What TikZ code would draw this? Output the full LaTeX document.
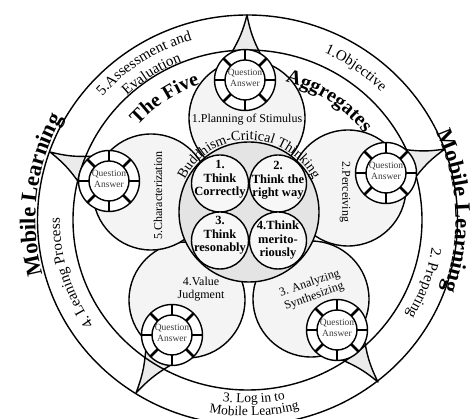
\documentclass[tikz,border=0pt]{standalone}
\usepackage{fontspec}
\setmainfont{Liberation Serif}
\usetikzlibrary{decorations.text,calc}
\definecolor{petalgray}{HTML}{F4F4F4}
\definecolor{coregray}{HTML}{E4E4E4}
\definecolor{smallgray}{HTML}{F7F7F7}
\definecolor{spikegray}{HTML}{EBEBEB}
\definecolor{qtext}{HTML}{3A3A3A}
\newcommand{\ringfnt}{\fontsize{15}{17}\selectfont}
\newcommand{\logfnt}{\fontsize{13.5}{15}\selectfont}
\newcommand{\aggfnt}{\bfseries\fontsize{20}{22}\selectfont}
\newcommand{\mobfnt}{\bfseries\fontsize{22.5}{24}\selectfont}
\newcommand{\budfnt}{\fontsize{14}{15}\selectfont}
\begin{document}
\begin{tikzpicture}[x=1pt,y=1pt,line join=round,
  mainline/.style={line width=1.4pt},
  petal/.style={mainline,fill=petalgray},
  core/.style={mainline,fill=coregray},
  thinkc/.style={circle,draw,mainline,fill=smallgray,minimum size=57pt,inner sep=0pt},
  qaring/.style={circle,draw,mainline,fill=white,minimum size=61pt,inner sep=0pt},
  qalabel/.style={align=center,font=\fontsize{9.5}{11.5}\selectfont,text=qtext,inner sep=0pt},
  tickmark/.style={line width=2.6pt},
  spike/.style={mainline,fill=spikegray},
  thinklabel/.style={align=center,font=\bfseries\fontsize{12.5}{13.5}\selectfont,inner sep=0pt},
  stagelabel/.style={align=center,font=\fontsize{12}{13.5}\selectfont,inner sep=0pt},
  arctext/.style={decorate,decoration={text along path,text align=center,text={#1}}},
]
\useasboundingbox (-249,-199) rectangle (227,220);
% outer ring
\draw[mainline,fill=white] (-1.5,0) ellipse [x radius=210,y radius=205];
% spikes
\foreach \i/\qx/\qy/\tx/\ty/\d in {1/-4/140/-2/205/88, 2/137/47/196/71/22, 3/88/-110/129/-162/-52, 4/-77/-115/-113/-173/-121.5, 5/-140/39/-199/68/154}{
  \coordinate (q\i) at (\qx,\qy);
  \coordinate (t\i) at (\tx,\ty);
  \draw[spike] ($(q\i)+({\d+28}:30.5)$) to[bend right=8] (t\i) to[bend right=8] ($(q\i)+({\d-28}:30.5)$);
}
% second ring
\draw[mainline] (-1.5,0) ellipse [x radius=174.5,y radius=170];
% petals
\foreach \px/\py in {-2/102, 99/32, 62/-79, -62/-80, -98/28}
  \draw[petal] (\px,\py) circle (58);
% core
\draw[core] (0,8) circle (70);
\node[thinkc] (th1) at (-29,36.5) {};
\node[thinkc] (th2) at (29,36.5) {};
\node[thinkc] (th3) at (-29,-20.5) {};
\node[thinkc] (th4) at (29,-20.5) {};
\node[thinklabel] (tl1) at ($(th1)+(0,4)$) {1.\\Think\\Correctly};
\node[thinklabel] (tl2) at ($(th2)+(0,3)$) {2.\\Think the\\right way};
\node[thinklabel] (tl3) at ($(th3)+(0,5)$) {3.\\Think\\resonably};
\node[thinklabel] (tl4) at ($(th4)+(0,0)$) {4.Think\\merito-\\riously};
% question/answer rings
\foreach \i in {1,...,5}{
  \node[qaring] (qa\i) at (q\i) {};
  \draw[mainline] (q\i) circle (20);
  \foreach \a in {0,45,...,315}
    \draw[tickmark] ($(q\i)+(\a:20)$) -- ($(q\i)+(\a:30.5)$);
  \node[qalabel] (qt\i) at ($(q\i)+(0,2)$) {Question\\Answer};
}
% stage labels
\node[stagelabel] (s1) at (-2,100) {1.Planning of Stimulus};
\node[stagelabel,rotate=-90] (s2) at (96,28) {2.Perceiving};
\node[stagelabel,rotate=19] (s3) at (63,-70) {3. Analyzing\\Synthesizing};
\node[stagelabel] (s4) at (-48,-69) {4.Value\\Judgment};
\node[stagelabel,rotate=90] (s5) at (-91,24.5) {5.Characterization};
% curved texts
\path[arctext={|\budfnt|Buddhism-Critical Thinking}] ($(0,8)+(152:72)$) arc[start angle=152,end angle=28,radius=72];
\path[arctext={|\aggfnt|The Five}] ({-1.5+1.025*143*cos(164)},{143*sin(164)}) arc[start angle=164,end angle=84,x radius={1.025*143},y radius=143];
\path[arctext={|\aggfnt|Aggregates}] ({-1.5+1.025*143*cos(96)},{143*sin(96)}) arc[start angle=96,end angle=16,x radius={1.025*143},y radius=143];
\path[arctext={|\ringfnt|1.Objective}] ({-1.5+1.025*183*cos(85)},{183*sin(85)}) arc[start angle=85,end angle=25,x radius={1.025*183},y radius=183];
\path[arctext={|\ringfnt|2. Preparing}] ({-1.5+1.025*182*cos(10)},{182*sin(10)}) arc[start angle=10,end angle=-50,x radius={1.025*182},y radius=182];
\path[arctext={|\ringfnt|4. Leaning Process}] ({-1.5+1.025*183*cos(237)},{183*sin(237)}) arc[start angle=237,end angle=157,x radius={1.025*183},y radius=183];
\path[arctext={|\ringfnt|5.Assessment and}] ({-1.5+1.025*188*cos(163)},{188*sin(163)}) arc[start angle=163,end angle=83,x radius={1.025*188},y radius=188];
\path[arctext={|\ringfnt|Evaluation}] ({-1.5+1.025*171*cos(163)},{171*sin(163)}) arc[start angle=163,end angle=83,x radius={1.025*171},y radius=171];
\path[arctext={|\logfnt|3. Log in to}] ({-1.5+1.025*183*cos(232)},{183*sin(232)}) arc[start angle=232,end angle=312,x radius={1.025*183},y radius=183];
\path[arctext={|\logfnt|Mobile  Learning}] ({-1.5+1.025*196*cos(232)},{196*sin(232)}) arc[start angle=232,end angle=312,x radius={1.025*196},y radius=196];
\path[arctext={|\mobfnt|Mobile Learning}] ({-1.5+1.02*208*cos(213)},{208*sin(213)}) arc[start angle=213,end angle=133,x radius={1.02*208},y radius=208];
\path[arctext={|\mobfnt|Mobile Learning}] ({-1.5+208*cos(42.5)},{208*sin(42.5)}) arc[start angle=42.5,end angle=-37.5,x radius=208,y radius=208];
\end{tikzpicture}
\end{document}
